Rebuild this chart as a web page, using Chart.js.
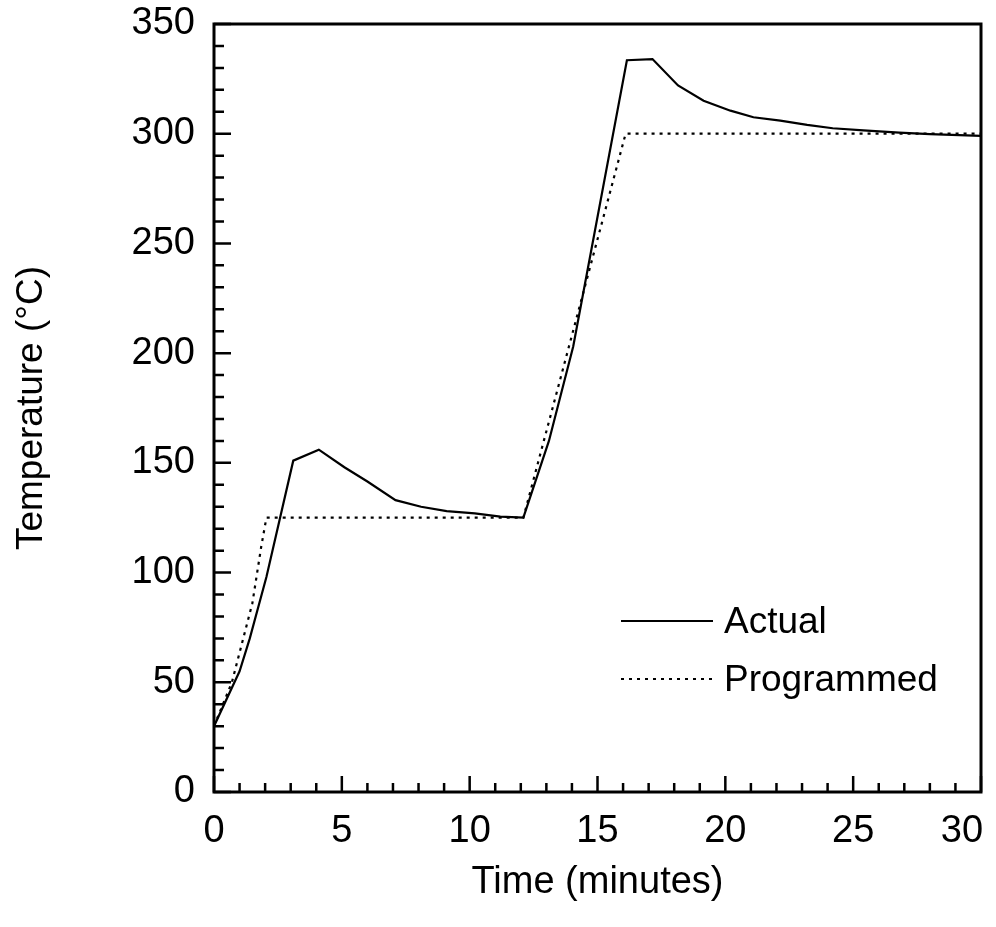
<!DOCTYPE html>
<html>
<head>
<meta charset="utf-8">
<script src="https://cdn.jsdelivr.net/npm/chart.js@4.4.1/dist/chart.umd.min.js"></script>
<style>
  html, body { margin: 0; padding: 0; background: #fff; }
  canvas { display: block; }
</style>
</head>
<body>
<canvas id="tempChart" width="996" height="927"></canvas>
<script>
// values
const actualTime = [0, 1.0, 1.4, 2.05, 3.1, 4.1, 5.1, 6.0, 7.1, 8.1, 9.1, 10.2, 11.2, 12.1, 13.1, 14.05, 16.15, 17.15, 18.15, 19.15, 20.2, 21.1, 22.15, 23.2, 24.2, 25.4, 26.8, 28.0, 30.0];
const actualTemp = [30, 55, 70, 98, 151, 156, 148, 141.5, 133, 130, 128, 127, 125.5, 125, 160, 203, 333.5, 334, 322, 315, 310.5, 307.5, 306, 304, 302.5, 301.5, 300.5, 299.8, 299];

const progTime = [0, 0.7, 1.5, 1.85, 2.05, 12.1, 16.1, 30];
const progTemp = [30, 50, 86, 112, 125, 125, 300, 300];

const xTicks = [0, 5, 10, 15, 20, 25, 30];
const yTicks = [0, 50, 100, 150, 200, 250, 300, 350];

const seriesNames = ['Actual', 'Programmed'];

const FONT = "'Liberation Sans', Arial, Helvetica, sans-serif";

function toPoints(xs, ys) {
    return xs.map((x, i) => ({x: x, y: ys[i]}));
}

// frame, inward ticks and the legend
const framePlugin = {
    id: 'frame',
    afterDraw(chart) {
        const ctx = chart.ctx;
        const a = chart.chartArea;
        const xs = chart.scales.x;
        const ys = chart.scales.y;
        ctx.save();
        ctx.strokeStyle = '#000';
        ctx.lineWidth = 3;
        ctx.strokeRect(a.left, a.top, a.right - a.left, a.bottom - a.top);

        ctx.lineWidth = 2.5;
        ctx.beginPath();
        xs.ticks.forEach(t => {
            const px = xs.getPixelForValue(t.value);
            const len = xTicks.includes(t.value) ? 16 : 9;
            ctx.moveTo(px, a.bottom);
            ctx.lineTo(px, a.bottom - len);
        });
        ys.ticks.forEach(t => {
            const py = ys.getPixelForValue(t.value);
            const len = yTicks.includes(t.value) ? 17 : 10;
            ctx.moveTo(a.left, py);
            ctx.lineTo(a.left + len, py);
        });
        ctx.stroke();

        // legend
        const rows = [621, 679];
        ctx.font = '37px ' + FONT;
        ctx.fillStyle = '#000';
        ctx.textBaseline = 'middle';
        chart.data.datasets.forEach((ds, i) => {
            ctx.beginPath();
            ctx.lineWidth = ds.borderWidth;
            ctx.setLineDash(ds.borderDash || []);
            ctx.moveTo(621, rows[i]);
            ctx.lineTo(713, rows[i]);
            ctx.stroke();
            ctx.setLineDash([]);
            ctx.fillText(ds.label, 724, rows[i] + 2);
        });
        ctx.restore();
    }
};

const ctx = document.getElementById('tempChart').getContext('2d');
const myChart = new Chart(ctx, {
    type: 'line',
    data: {
        datasets: [
            {
                label: seriesNames[0],
                data: toPoints(actualTime, actualTemp),
                borderColor: '#000',
                borderWidth: 2.2,
                pointRadius: 0,
                tension: 0,
                fill: false
            },
            {
                label: seriesNames[1],
                data: toPoints(progTime, progTemp),
                borderColor: '#000',
                borderWidth: 2.2,
                borderDash: [3, 5],
                pointRadius: 0,
                tension: 0,
                fill: false
            }
        ]
    },
    options: {
        responsive: false,
        animation: false,
        layout: {padding: {top: 24, right: 15, left: 0, bottom: 0}},
        plugins: {
            legend: {display: false},
            title: {display: false},
            tooltip: {enabled: false}
        },
        scales: {
            x: {
                type: 'linear',
                min: 0,
                max: 30,
                grid: {display: false, drawTicks: false},
                border: {display: false},
                ticks: {
                    stepSize: 1,
                    autoSkip: false,
                    maxRotation: 0,
                    padding: 17,
                    color: '#000',
                    font: {family: FONT, size: 38},
                    callback: function(v) {
                        if (!xTicks.includes(v)) return '';
                        // last label sits a bit inward, as in the original
                        return v === 30 ? '30\u2002\u2002' : String(v);
                    }
                },
                title: {
                    display: true,
                    text: 'Time (minutes)',
                    color: '#000',
                    font: {family: FONT, size: 38},
                    padding: {top: 0, bottom: 22}
                },
                afterFit(scale) {
                    scale.height = 135;
                    scale.paddingLeft = 0;
                    scale.paddingRight = 0;
                }
            },
            y: {
                min: 0,
                max: 350,
                grid: {display: false, drawTicks: false},
                border: {display: false},
                ticks: {
                    stepSize: 10,
                    autoSkip: false,
                    padding: 19,
                    color: '#000',
                    font: {family: FONT, size: 38},
                    callback: v => yTicks.includes(v) ? v : ''
                },
                title: {
                    display: true,
                    text: 'Temperature (°C)',
                    color: '#000',
                    font: {family: FONT, size: 37},
                    padding: {top: 10, bottom: 0}
                },
                afterFit(scale) {
                    scale.width = 214;
                    scale.paddingTop = 0;
                    scale.paddingBottom = 0;
                }
            }
        }
    },
    plugins: [framePlugin]
});
</script>
</body>
</html>
